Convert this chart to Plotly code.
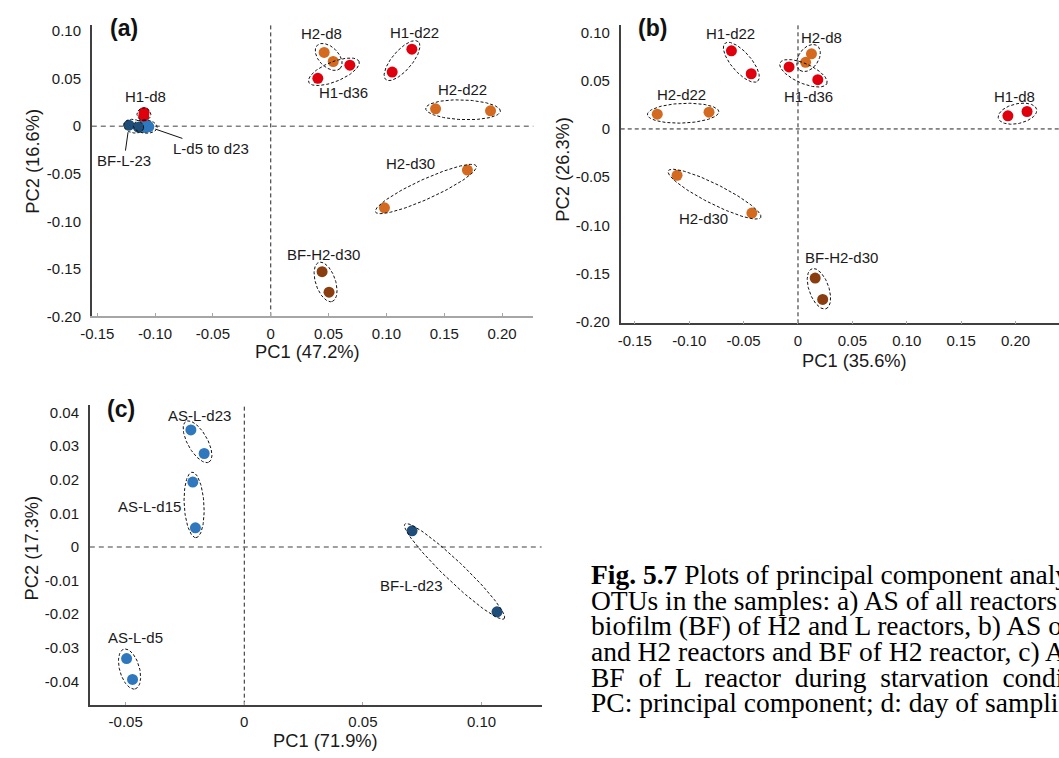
import numpy as np
import plotly.graph_objects as go

W, H = 1059, 758

# ---------------- data ----------------
# Panel (a): AS of all reactors + BF of H2 and L
a_labels = ["L-d5 to d23", "BF-L-23", "H1-d8", "H2-d8", "H1-d36", "H1-d22", "H2-d22", "H2-d30", "BF-H2-d30"]
a_kind = ["L", "BFL", "H1", "H2", "H1", "H1", "H2", "H2", "BFH2"]
a_pc1 = [[-0.1115, -0.1100, -0.1085, -0.1075, -0.1062, -0.1054],
         [-0.1225, -0.1145],
         [-0.1095, -0.1098],
         [0.0462, 0.0540],
         [0.0407, 0.0684],
         [0.1050, 0.1220],
         [0.1425, 0.1900],
         [0.0983, 0.1700],
         [0.0444, 0.0504]]
a_pc2 = [[0.0000, -0.0015, 0.0010, -0.0010, 0.0005, -0.0007],
         [0.0010, -0.0010],
         [0.0145, 0.0105],
         [0.0776, 0.0680],
         [0.0503, 0.0641],
         [0.0569, 0.0810],
         [0.0183, 0.0162],
         [-0.0859, -0.0462],
         [-0.1530, -0.1745]]
a_text_pc1 = [-0.0513, -0.1268, -0.1083, 0.0442, 0.0627, 0.1245, 0.1660, 0.1210, 0.0456]
a_text_pc2 = [-0.0234, -0.0362, 0.0310, 0.0972, 0.0355, 0.0983, 0.0386, -0.0397, -0.1345]

# Panel (b): AS of H1 and H2 + BF of H2
b_labels = ["H1-d22", "H2-d8", "H1-d36", "H1-d8", "H2-d22", "H2-d30", "BF-H2-d30"]
b_kind = ["H1", "H2", "H1", "H1", "H2", "H2", "BFH2"]
b_pc1 = [[-0.0612, -0.0430], [0.0124, 0.0070], [-0.0082, 0.0182], [0.1930, 0.2106],
         [-0.1294, -0.0818], [-0.1112, -0.0424], [0.0158, 0.0227]]
b_pc2 = [[0.0811, 0.0573], [0.0780, 0.0692], [0.0644, 0.0511], [0.0136, 0.0181],
         [0.0153, 0.0174], [-0.0481, -0.0873], [-0.1548, -0.1770]]
b_text_pc1 = [-0.0620, 0.0215, 0.0094, 0.1994, -0.1067, -0.0870, 0.0397]
b_text_pc2 = [0.0992, 0.0948, 0.0338, 0.0338, 0.0361, -0.0927, -0.1333]

# Panel (c): AS and BF of L reactor
c_labels = ["AS-L-d23", "AS-L-d15", "AS-L-d5", "BF-L-d23"]
c_kind = ["L", "L", "L", "BFL"]
c_pc1 = [[-0.0225, -0.0169], [-0.0217, -0.0206], [-0.0496, -0.0471], [0.0707, 0.1065]]
c_pc2 = [[0.0348, 0.0278], [0.0193, 0.0057], [-0.0332, -0.0394], [0.0048, -0.0193]]
c_text_pc1 = [-0.0188, -0.0400, -0.0458, 0.0704]
c_text_pc2 = [0.0390, 0.0120, -0.0270, -0.0116]

a_title = ["PC1 (47.2%)", "PC2 (16.6%)"]
b_title = ["PC1 (35.6%)", "PC2 (26.3%)"]
c_title = ["PC1 (71.9%)", "PC2 (17.3%)"]

a_xticks = [-0.15, -0.10, -0.05, 0, 0.05, 0.10, 0.15, 0.20]
a_yticks = [-0.20, -0.15, -0.10, -0.05, 0, 0.05, 0.10]
c_xticks = [-0.05, 0, 0.05, 0.10]
c_yticks = [-0.04, -0.03, -0.02, -0.01, 0, 0.01, 0.02, 0.03, 0.04]

NB = "\u00a0"
caption_lines = [
    "<b>Fig. 5.7</b> Plots of principal component analysis",
    "OTUs in the samples: a) AS of all reactors and",
    "biofilm (BF) of H2 and L reactors, b) AS of H1",
    "and H2 reactors and BF of H2 reactor, c) AS and",
    (" " + NB).join(["BF", "of", "L", "reactor", "during", "starvation", "conditions."]),
    "PC: principal component; d: day of sampling.",
]

# ---------------- style ----------------
COL = {"H1": "#E0000D", "H2": "#D46A1F", "BFH2": "#8A3E10", "L": "#2F78BD", "BFL": "#1E4E79"}
FONT = "Arial, Liberation Sans, sans-serif"
TXT = "#1a1a1a"

# axis geometry (px)
A = dict(x0=80.7, x1=527.3, y0=318.0, y1=22.7, xr=[-0.1547, 0.2270], yr=[-0.2000, 0.1060])
B = dict(x0=615.7, x1=1059.0, y0=325.0, y1=22.7, xr=[-0.1630, 0.2400], yr=[-0.2017, 0.1075])
C = dict(x0=78.7, x1=535.7, y0=712.0, y1=408.0, xr=[-0.0651, 0.1253], yr=[-0.0469, 0.0422])


def scales(g):
    sx = (g["x1"] - g["x0"]) / (g["xr"][1] - g["xr"][0])
    sy = (g["y0"] - g["y1"]) / (g["yr"][1] - g["yr"][0])
    return sx, sy


def ellipse(xs, ys, sx, sy, pad=10.0, minor=10.0, n=120):
    px = np.asarray(xs, float) * sx
    py = np.asarray(ys, float) * sy
    i0, i1, best = 0, 0, -1.0
    for i in range(len(px)):
        for j in range(len(px)):
            d = np.hypot(px[i] - px[j], py[i] - py[j])
            if d > best:
                best, i0, i1 = d, i, j
    cx, cy = (px[i0] + px[i1]) / 2, (py[i0] + py[i1]) / 2
    ang = np.arctan2(py[i1] - py[i0], px[i1] - px[i0])
    a = best / 2 + pad
    b = minor
    t = np.linspace(0, 2 * np.pi, n)
    ex = cx + a * np.cos(t) * np.cos(ang) - b * np.sin(t) * np.sin(ang)
    ey = cy + a * np.cos(t) * np.sin(ang) + b * np.sin(t) * np.cos(ang)
    return ex / sx, ey / sy


fig = go.Figure()

ELL_PARAMS = {
    "a": {"L-d5 to d23": (8.5, 6.8), "BF-L-23": (5.5, 6.8), "H1-d8": (4.5, 7.0)},
    "b": {},
    "c": {},
}


def add_panel(key, g, labels, kinds, pc1, pc2, tx, ty, xa, ya, skip_text=()):
    sx, sy = scales(g)
    order = sorted(range(len(labels)), key=lambda i: {"L": 0, "BFL": 1}.get(kinds[i], 2))
    for i in order:
        fig.add_trace(go.Scatter(
            x=pc1[i], y=pc2[i], mode="markers", xaxis=xa, yaxis=ya,
            marker=dict(size=11, color=COL[kinds[i]], line=dict(width=0)),
            showlegend=False, hoverinfo="skip"))
    for i in range(len(labels)):
        pad, minor = ELL_PARAMS[key].get(labels[i], (10.0, 10.0))
        ex, ey = ellipse(pc1[i], pc2[i], sx, sy, pad, minor)
        fig.add_trace(go.Scatter(
            x=ex, y=ey, mode="lines", xaxis=xa, yaxis=ya,
            line=dict(color="#111111", width=1, dash="3px,2px"),
            showlegend=False, hoverinfo="skip"))
    for i in range(len(labels)):
        if labels[i] in skip_text:
            continue
        fig.add_annotation(x=tx[i], y=ty[i], xref=xa, yref=ya, text=labels[i],
                           showarrow=False, xanchor="center", yanchor="middle",
                           font=dict(family=FONT, size=15, color=TXT))


add_panel("a", A, a_labels, a_kind, a_pc1, a_pc2, a_text_pc1, a_text_pc2, "x", "y",
          skip_text=("L-d5 to d23", "BF-L-23"))
add_panel("b", B, b_labels, b_kind, b_pc1, b_pc2, b_text_pc1, b_text_pc2, "x2", "y2")
add_panel("c", C, c_labels, c_kind, c_pc1, c_pc2, c_text_pc1, c_text_pc2, "x3", "y3")

# leader-line labels in panel (a)
for i, target in ((0, 5), (1, 0)):
    fig.add_annotation(x=a_pc1[i][target], y=a_pc2[i][target], xref="x", yref="y",
                       ax=a_text_pc1[i], ay=a_text_pc2[i], axref="x", ayref="y",
                       text=a_labels[i], showarrow=True, arrowhead=0, arrowwidth=1,
                       arrowcolor="#111111", standoff=7,
                       font=dict(family=FONT, size=15, color=TXT))


def dom(g):
    return [g["x0"] / W, g["x1"] / W], [(H - g["y0"]) / H, (H - g["y1"]) / H]


def fmt(v, nd):
    return "0" if v == 0 else f"{v:.{nd}f}"


def axis_pair(g, xt, yt, xdark):
    xd, yd = dom(g)
    xax = dict(domain=xd, range=g["xr"], showgrid=False, zeroline=False,
               showline=True, linecolor="#404040" if xdark else "#A6A6A6",
               linewidth=1.5 if xdark else 2,
               tickvals=xt, ticktext=[fmt(v, 2) for v in xt],
               ticks="inside", ticklen=3, tickcolor="#A6A6A6", tickwidth=1,
               ticklabelstandoff=3,
               tickfont=dict(family=FONT, size=15, color=TXT),
               fixedrange=True)
    yax = dict(domain=yd, range=g["yr"], showgrid=False, zeroline=False,
               showline=True, linecolor="#404040", linewidth=1.5,
               tickvals=yt, ticktext=[fmt(v, 2) for v in yt],
               ticks="", ticklabelstandoff=6,
               tickfont=dict(family=FONT, size=15, color=TXT),
               fixedrange=True)
    return xax, yax


xa1, ya1 = axis_pair(A, a_xticks, a_yticks, False)
xa2, ya2 = axis_pair(B, a_xticks, a_yticks, True)
xa3, ya3 = axis_pair(C, c_xticks, c_yticks, True)
xa2["anchor"] = "y2"; ya2["anchor"] = "x2"
xa3["anchor"] = "y3"; ya3["anchor"] = "x3"

# axis titles (placed as text at the reference positions)
for (tx_, ty_), (ux, uy), titles in ((( 299.0, 354.0), (20.7, 160.5), a_title),
                                     (( 851.7, 363.0), (556.0, 168.5), b_title),
                                     (( 316.7, 748.3), (20.7, 553.0), c_title)):
    fig.add_annotation(x=tx_ / W, y=(H - ty_) / H, xref="paper", yref="paper", text=titles[0],
                       showarrow=False, xanchor="center", yanchor="middle",
                       font=dict(family=FONT, size=18.3, color=TXT))
    fig.add_annotation(x=ux / W, y=(H - uy) / H, xref="paper", yref="paper", text=titles[1],
                       showarrow=False, xanchor="center", yanchor="middle", textangle=-90,
                       font=dict(family=FONT, size=18.3, color=TXT))

shapes = []
for xr_, yr_, hcol, hw, hdash in (("x", "y", "#808080", 1.5, "5px,4px"),
                                   ("x2", "y2", "#222222", 1, "4px,3px"),
                                   ("x3", "y3", "#808080", 1.5, "5px,4px")):
    shapes.append(dict(type="line", xref=xr_, yref=yr_ + " domain", x0=0, x1=0, y0=0, y1=1,
                       line=dict(color="#222222", width=1, dash="4px,3px"), layer="below"))
    shapes.append(dict(type="line", xref=xr_ + " domain", yref=yr_, x0=0, x1=1, y0=0, y1=0,
                       line=dict(color=hcol, width=hw, dash=hdash), layer="below"))

# panel letters
for xr_, yr_, lx, ly, t in (("x", "y", 0.0723, 0.992, "(a)"),
                            ("x2", "y2", 0.0735, 0.992, "(b)"),
                            ("x3", "y3", 0.070, 0.988, "(c)")):
    fig.add_annotation(x=lx, y=ly, xref=xr_ + " domain", yref=yr_ + " domain", text=f"<b>{t}</b>",
                       showarrow=False, xanchor="center", yanchor="middle",
                       font=dict(family=FONT, size=23, color="#111111"))

# caption
for k, line in enumerate(caption_lines):
    fig.add_annotation(x=584 / W, y=(H - (580 + 26 * k)) / H, xref="paper", yref="paper",
                       text=line, showarrow=False, xanchor="left", yanchor="middle",
                       font=dict(family="Liberation Serif, Times New Roman, serif", size=27.5, color="#000000"))

fig.update_layout(
    width=W, height=H, margin=dict(l=0, r=0, t=0, b=0),
    paper_bgcolor="white", plot_bgcolor="white",
    xaxis=xa1, yaxis=ya1, xaxis2=xa2, yaxis2=ya2, xaxis3=xa3, yaxis3=ya3,
    shapes=shapes, showlegend=False,
)

fig.write_html("out.html", config={"displayModeBar": False})
